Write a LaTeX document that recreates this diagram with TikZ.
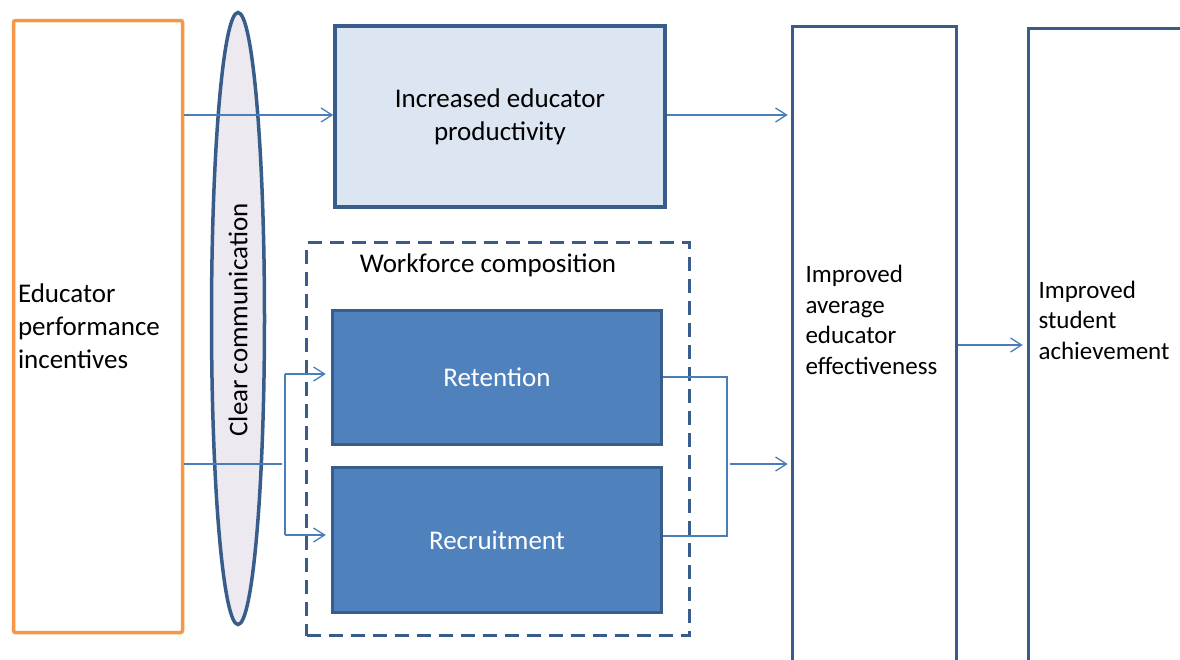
\documentclass[tikz,border=0pt]{standalone}
\usepackage{fontspec}
\setmainfont{Carlito}
\usetikzlibrary{shapes.geometric,arrows.meta}
\definecolor{boxline}{HTML}{385D8A}
\definecolor{linkblue}{HTML}{4A7EBB}
\definecolor{incorange}{HTML}{F79646}
\definecolor{paleblue}{HTML}{DCE6F2}
\definecolor{midblue}{HTML}{4F81BD}
\definecolor{lavender}{HTML}{ECE9F1}
\tikzset{
  bigfont/.style={font=\fontsize{27}{33}\selectfont},
  smallfont/.style={font=\fontsize{25}{30.5}\selectfont},
  frame/.style={draw=boxline, line width=3.5pt, inner sep=0pt},
  bluebox/.style={frame, fill=midblue, text=white, bigfont},
  link/.style={draw=linkblue, line width=1.3pt},
  arrowlink/.style={link, -{Straight Barb[length=11pt,width=14pt,line width=1.3pt]}},
}
\begin{document}
\begin{tikzpicture}[x=1pt,y=-1pt]
\useasboundingbox (0,0) rectangle (1180,659);
\clip (0,0) rectangle (1180,659);

% incentives column
\node[draw=incorange, line width=3.5pt, rounded corners=2pt, minimum width=169pt,
      minimum height=612pt, text width=160pt, align=left, inner sep=0pt, bigfont]
  (inc) at (98,326.5) {Educator\\performance\\incentives};

% communication ellipse
\node[ellipse, draw=boxline, fill=lavender, line width=3.5pt, minimum width=53pt,
      minimum height=612pt, inner sep=0pt] (comm) at (238,318.5) {};
\node[rotate=90, bigfont] (commtext) at (238,320) {Clear communication};

% productivity box
\node[frame, fill=paleblue, minimum width=330pt, minimum height=181pt,
      align=center, bigfont] (prod) at (500,116.5) {Increased educator\\productivity};

% workforce composition group
\node[draw=boxline, line width=3.5pt, dash pattern=on 14pt off 8pt, minimum width=383pt,
      minimum height=393pt, inner sep=0pt] (wf) at (498,439) {};
\node[bigfont] (wftext) at (488,265) {Workforce composition};
\node[bluebox, minimum width=329pt, minimum height=134pt] (ret) at (497,377.5) {Retention};
\node[bluebox, minimum width=329pt, minimum height=145pt] (rec) at (497,540) {Recruitment};

% outcome columns
\node[frame, minimum width=164pt, minimum height=673pt] (eff) at (874.5,363) {};
\node[smallfont, align=left, anchor=west] (efftext) at (802,320)
  {Improved\\average\\educator\\effectiveness};
\node[frame, minimum width=300pt, minimum height=673pt] (ach) at (1178.5,365) {};
\node[smallfont, align=left, anchor=west] (achtext) at (1035,320)
  {Improved\\student\\achievement};

% connectors
\coordinate (split) at (285,464);
\coordinate (join) at (727,464);
\draw[arrowlink] (inc.east |- 0,115) -- (prod.west |- 0,115);
\draw[arrowlink] (prod.east |- 0,115) -- ([xshift=-3pt]eff.west |- 0,115);
\draw[link] (inc.east |- split) -- ([xshift=-3pt]split);
\draw[link] (split |- 0,374) -- (split |- 0,535);
\draw[arrowlink] (split |- 0,374) -- ([xshift=-5pt]ret.west |- 0,374);
\draw[arrowlink] (split |- 0,535) -- ([xshift=-5pt]rec.west |- 0,535);
\draw[link] (ret.east |- 0,377) -| (join |- 0,536) -- (rec.east |- 0,536);
\draw[arrowlink] ([xshift=3pt]join) -- ([xshift=-3pt]eff.west |- join);
\draw[arrowlink] (eff.east |- 0,345) -- ([xshift=-4pt]ach.west |- 0,345);
\end{tikzpicture}
\end{document}
